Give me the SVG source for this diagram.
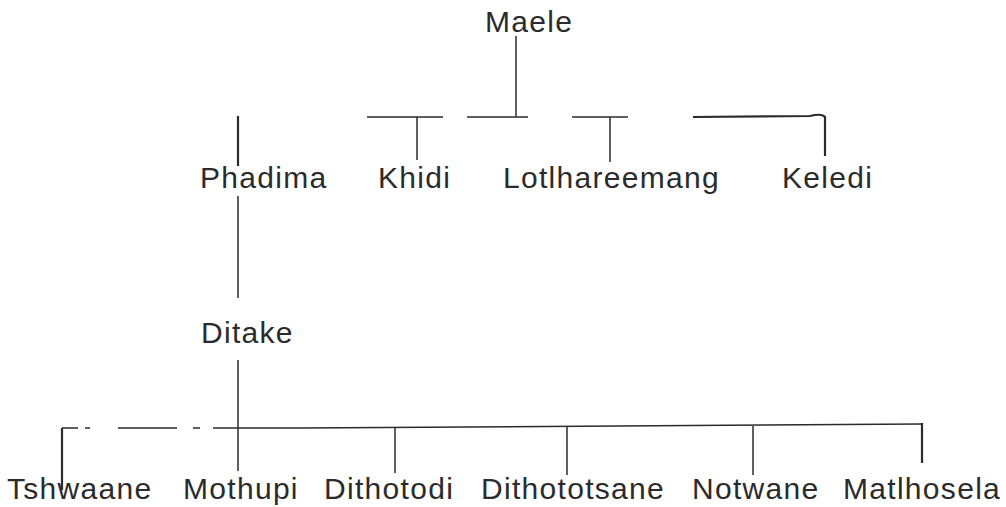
<svg xmlns="http://www.w3.org/2000/svg" width="1006" height="507" viewBox="0 0 1006 507">
<style>
.lbl{font-family:"Liberation Sans",Arial,sans-serif;font-size:30px;letter-spacing:1.3px;fill:#2b2b2b}
.ln{stroke:#2b2b2b;stroke-width:1.5;fill:none;stroke-linecap:butt}
.th{stroke-width:2.2}
</style>
<rect width="1006" height="507" fill="#ffffff"/>
<g id="connectors">
<path class="ln" d="M516 36V117"/>
<path class="ln" d="M367 117H443"/>
<path class="ln" d="M467 117H528"/>
<path class="ln" d="M572 117H628"/>
<path class="ln th" d="M693 117L810 116Q822 113 825 117V156"/>
<path class="ln" d="M417 117V160"/>
<path class="ln" d="M610 117V162"/>
<path class="ln th" d="M238 116V166"/>
<path class="ln" d="M238 196V298"/>
<path class="ln" d="M238 360V471"/>
<path class="ln th" d="M62 490V428"/>
<path class="ln" d="M62 428H78M85 428H90M118 428H177M193 428H200M213 428H300"/>
<path class="ln" d="M300 428L922 424"/>
<path class="ln th" d="M922 423V463"/>
<path class="ln" d="M395 428V473"/>
<path class="ln" d="M567 427V475"/>
<path class="ln" d="M753 426V475"/>
</g>
<g id="n-maele"><text class="lbl" x="485" y="32">Maele</text></g>
<g id="n-phadima"><text class="lbl" x="200" y="188">Phadima</text></g>
<g id="n-khidi"><text class="lbl" x="378" y="188">Khidi</text></g>
<g id="n-lotlhareemang"><text class="lbl" x="503" y="188">Lotlhareemang</text></g>
<g id="n-keledi"><text class="lbl" x="782" y="188">Keledi</text></g>
<g id="n-ditake"><text class="lbl" x="201" y="343">Ditake</text></g>
<g id="n-tshwaane"><text class="lbl" x="7" y="499">Tshwaane</text></g>
<g id="n-mothupi"><text class="lbl" x="183" y="499">Mothupi</text></g>
<g id="n-dithotodi"><text class="lbl" x="324" y="499">Dithotodi</text></g>
<g id="n-dithototsane"><text class="lbl" x="481" y="499">Dithototsane</text></g>
<g id="n-notwane"><text class="lbl" x="692" y="499">Notwane</text></g>
<g id="n-matlhosela"><text class="lbl" x="843" y="499">Matlhosela</text></g>
</svg>
